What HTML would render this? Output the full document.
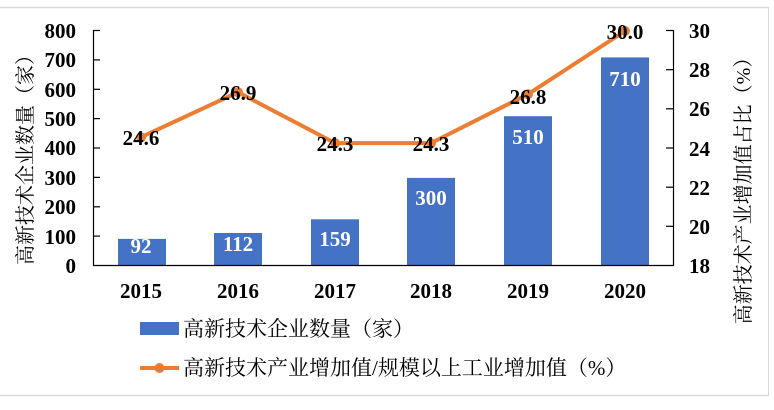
<!DOCTYPE html>
<html><head><meta charset="utf-8"><style>
body{margin:0;background:#fff;}
svg text{font-family:"Liberation Serif","Noto Serif CJK SC",serif;}
</style></head><body>
<svg width="774" height="405" xmlns="http://www.w3.org/2000/svg">
<rect width="774" height="405" fill="#fff"/>
<line x1="0" y1="7.5" x2="768" y2="7.5" stroke="#d9d9d9" stroke-width="1.5"/>
<line x1="0" y1="395.5" x2="768" y2="395.5" stroke="#d9d9d9" stroke-width="1.5"/>
<line x1="768.5" y1="7" x2="768.5" y2="396" stroke="#d9d9d9"/>
<g fill="#4472c4">
<rect x="118" y="238.9" width="48" height="27.1"/>
<rect x="214" y="233" width="48" height="33"/>
<rect x="311" y="219.3" width="48" height="46.7"/>
<rect x="407" y="177.9" width="48" height="88.1"/>
<rect x="504" y="116.2" width="48" height="149.8"/>
<rect x="601" y="57.4" width="48" height="208.6"/>
</g>
<g stroke="#000" stroke-width="1.2">
<line x1="93.5" y1="30" x2="93.5" y2="266"/>
<line x1="673.5" y1="30" x2="673.5" y2="266"/>
<line x1="93" y1="265.5" x2="674" y2="265.5"/>
<line x1="93" y1="30.5" x2="100" y2="30.5"/><line x1="93" y1="59.9" x2="100" y2="59.9"/><line x1="93" y1="89.3" x2="100" y2="89.3"/><line x1="93" y1="118.6" x2="100" y2="118.6"/><line x1="93" y1="148" x2="100" y2="148"/><line x1="93" y1="177.4" x2="100" y2="177.4"/><line x1="93" y1="206.8" x2="100" y2="206.8"/><line x1="93" y1="236.1" x2="100" y2="236.1"/>
<line x1="666" y1="30.5" x2="673" y2="30.5"/><line x1="666" y1="69.7" x2="673" y2="69.7"/><line x1="666" y1="108.8" x2="673" y2="108.8"/><line x1="666" y1="148" x2="673" y2="148"/><line x1="666" y1="187.2" x2="673" y2="187.2"/><line x1="666" y1="226.3" x2="673" y2="226.3"/>
</g>
<polyline points="141,137.2 238,92.2 335,143.1 431,143.1 528,94.2 625,31" fill="none" stroke="#ed7d31" stroke-width="4" stroke-linejoin="round"/>
<g fill="#ed7d31"><circle cx="141" cy="137.2" r="5"/><circle cx="238" cy="92.2" r="5"/><circle cx="335" cy="143.1" r="5"/><circle cx="431" cy="143.1" r="5"/><circle cx="528" cy="94.2" r="5"/><circle cx="625" cy="31" r="5"/></g>
<g font-size="21" font-weight="bold" text-anchor="middle" fill="#000">
<text x="141" y="145">24.6</text><text x="238" y="100">26.9</text><text x="335" y="151">24.3</text><text x="431" y="151">24.3</text><text x="528" y="104">26.8</text><text x="625" y="39">30.0</text>
</g>
<g font-size="21" font-weight="bold" text-anchor="middle" fill="#fff">
<text x="141" y="253">92</text><text x="238" y="251">112</text><text x="335" y="246">159</text><text x="431" y="205">300</text><text x="528" y="144">510</text><text x="625" y="86">710</text>
</g>
<g font-size="21" font-weight="bold" text-anchor="end" fill="#000">
<text x="76" y="38">800</text><text x="76" y="67">700</text><text x="76" y="97">600</text><text x="76" y="126">500</text><text x="76" y="155">400</text><text x="76" y="185">300</text><text x="76" y="214">200</text><text x="76" y="244">100</text><text x="76" y="273">0</text>
</g>
<g font-size="21" font-weight="bold" text-anchor="start" fill="#000">
<text x="689" y="38">30</text><text x="689" y="77">28</text><text x="689" y="116">26</text><text x="689" y="156">24</text><text x="689" y="195">22</text><text x="689" y="234">20</text><text x="689" y="273">18</text>
</g>
<g font-size="21" font-weight="bold" text-anchor="middle" fill="#000">
<text x="141" y="298">2015</text><text x="238" y="298">2016</text><text x="335" y="298">2017</text><text x="431" y="298">2018</text><text x="528" y="298">2019</text><text x="625" y="298">2020</text>
</g>
<text transform="translate(32,155) rotate(-90)" font-size="20" text-anchor="middle" fill="#000">高新技术企业数量（家）</text>
<text transform="translate(750,186) rotate(-90)" font-size="20" text-anchor="middle" fill="#000">高新技术产业增加值占比（%）</text>
<rect x="140" y="322" width="39" height="13" fill="#4472c4"/>
<text x="183" y="336" font-size="21" fill="#000">高新技术企业数量（家）</text>
<line x1="140" y1="368" x2="179" y2="368" stroke="#ed7d31" stroke-width="4"/>
<circle cx="159.5" cy="368" r="5" fill="#ed7d31"/>
<text x="183" y="375" font-size="21" fill="#000">高新技术产业增加值/规模以上工业增加值（%）</text>
</svg>
</body></html>
